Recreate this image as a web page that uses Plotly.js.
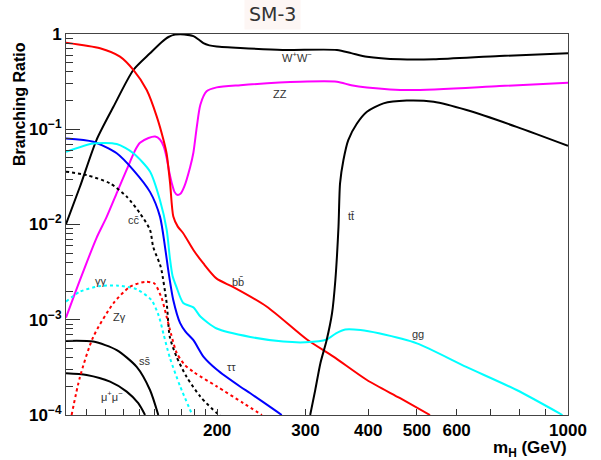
<!DOCTYPE html>
<html>
<head>
<meta charset="utf-8">
<script src="https://cdn.plot.ly/plotly-3.0.1.min.js"></script>
<style>html,body{margin:0;padding:0;background:#fff;}#chart{width:601px;height:460px;}</style>
</head>
<body>
<div id="chart"></div>
<script>
// ---- data (Higgs mass in GeV, branching ratio) ----
var massWW = [100, 106.6, 115, 124.3, 136.2, 147, 155, 160, 165, 172, 179.4, 184, 187.8, 193, 199.6, 222.5, 270, 346.5, 370, 397.6, 463, 540, 730, 1000];
var brWW   = [0.0101, 0.0249, 0.077, 0.172, 0.419, 0.627, 0.82, 0.93, 0.985, 0.99, 0.95, 0.87, 0.80, 0.76, 0.74, 0.713, 0.68, 0.68, 0.63, 0.578, 0.542, 0.542, 0.587, 0.627];

var massZZ = [100, 106.6, 115, 120.5, 126.5, 132.1, 137.4, 140.4, 146, 150.5, 153.9, 156.5, 158.7, 160.5, 162.5, 164.5, 166.5, 169, 172, 176.7, 179.4, 182.2, 185.2, 190.6, 199.6, 222.5, 292.7, 346.5, 370, 397.6, 484, 730, 1000];
var brZZ   = [0.00105, 0.0026, 0.0072, 0.012, 0.022, 0.0376, 0.0605, 0.072, 0.081, 0.084, 0.078, 0.066, 0.05, 0.036, 0.027, 0.022, 0.0205, 0.021, 0.025, 0.040, 0.057, 0.106, 0.181, 0.25, 0.275, 0.29, 0.315, 0.315, 0.29, 0.275, 0.258, 0.284, 0.308];

var massBB = [100, 116.9, 128.1, 136.2, 144.8, 151.7, 156.4, 158.7, 161.2, 163.6, 167, 171.2, 179.4, 187.8, 199.6, 215.5, 251.3, 302, 341, 397.6, 463, 531];
var brBB   = [0.81, 0.708, 0.578, 0.419, 0.258, 0.135, 0.077, 0.055, 0.027, 0.0121, 0.0095, 0.0081, 0.0054, 0.0039, 0.0027, 0.0022, 0.00137, 0.00062, 0.00041, 0.000233, 0.00015, 0.0001];

var massTauTau = [100, 113.3, 126.2, 136.2, 147, 153.9, 157.5, 160, 163.6, 168.8, 173, 179.4, 187.8, 199.6, 222.5, 232.9, 269];
var brTauTau   = [0.080, 0.074, 0.056, 0.0373, 0.022, 0.0121, 0.0058, 0.0032, 0.0016, 0.00092, 0.00075, 0.00061, 0.00041, 0.0003, 0.000198, 0.000169, 0.0001];

var massGG = [100, 113.3, 126.2, 136.2, 147, 153.9, 158.7, 161, 163, 166, 171.2, 179.4, 185.2, 199.6, 232.9, 270.9, 300, 330.5, 345, 360, 386, 420, 500, 627, 790, 975];
var brGG   = [0.058, 0.071, 0.070, 0.056, 0.036, 0.018, 0.0088, 0.0045, 0.0029, 0.0022, 0.0015, 0.00135, 0.00108, 0.00081, 0.00066, 0.00059, 0.00058, 0.00062, 0.00072, 0.00079, 0.00078, 0.00072, 0.000565, 0.00032, 0.000183, 0.0001];

var massTT = [306.5, 313.7, 321.2, 330.5, 338.8, 344, 349, 351.5, 357, 365, 379.8, 397.6, 428.9, 477, 540, 628, 790, 1000];
var brTT   = [0.0001, 0.000183, 0.00035, 0.00061, 0.00117, 0.0026, 0.0095, 0.027, 0.0475, 0.077, 0.115, 0.153, 0.187, 0.20, 0.194, 0.159, 0.106, 0.067];

var massCC = [100, 109.9, 122.4, 132.1, 140.4, 147, 149.2, 153.9, 155, 158.7, 161, 166, 174, 185.2, 199.6, 203];
var brCC   = [0.0359, 0.033, 0.027, 0.0196, 0.0131, 0.0088, 0.0058, 0.0038, 0.0033, 0.00149, 0.00066, 0.00041, 0.00025, 0.000156, 0.000105, 0.0001];

var massSS = [100, 113.3, 126.2, 138.3, 147, 152.7];
var brSS   = [0.0006, 0.00059, 0.00048, 0.00032, 0.000183, 0.0001];

var massMuMu = [100, 109.9, 122.4, 132.1, 139.3, 143.7];
var brMuMu   = [0.000274, 0.000263, 0.000224, 0.000176, 0.000133, 0.0001];

var massGamGam = [100, 106.6, 116.9, 127.1, 138.3, 148, 153, 156.5, 161, 168.8, 178.5];
var brGamGam   = [0.00155, 0.00197, 0.00226, 0.00228, 0.00209, 0.00161, 0.0011, 0.0007, 0.0004, 0.0002, 0.0001];

var massZGam = [102.6, 106.6, 113.3, 124.3, 134.1, 143.7, 150, 155, 158.5, 162, 166.1, 172, 180, 199.6, 225.6, 245.6];
var brZGam   = [0.0001, 0.00025, 0.00066, 0.00149, 0.00222, 0.0025, 0.0024, 0.0017, 0.0011, 0.0007, 0.00045, 0.00034, 0.00028, 0.0002, 0.000133, 0.0001];

var xTickVals = [200, 300, 400, 500, 600, 700, 800, 900, 1000];
var xTickText = ["200", "300", "400", "500", "600", "", "", "", "1000"];
var yTickVals = [1e-4, 1e-3, 1e-2, 1e-1, 1];
var yTickText = ["10<sup>\u22124</sup>", "10<sup>\u22123</sup>", "10<sup>\u22122</sup>", "10<sup>\u22121</sup>", "1"];

var labelText = ["W<sup>+</sup>W<sup>\u2212</sup>", "ZZ", "tt\u0304", "cc\u0304", "bb\u0304", "\u03b3\u03b3", "Z\u03b3", "gg", "ss\u0304", "\u03c4\u03c4", "\u03bc<sup>+</sup>\u03bc<sup>\u2212</sup>"];

// ---- drawing ----
function line(x, y, color, dash) {
  return {x: x, y: y, type: 'scatter', mode: 'lines', hoverinfo: 'skip',
          line: {color: color, width: 2, dash: dash || 'solid', shape: 'spline', smoothing: 0.7}};
}
var traces = [
  line(massWW, brWW, '#000000'),
  line(massZZ, brZZ, '#ff00ff'),
  line(massBB, brBB, '#ff0000'),
  line(massTauTau, brTauTau, '#0000ff'),
  line(massGG, brGG, '#00ffff'),
  line(massTT, brTT, '#000000'),
  line(massCC, brCC, '#000000', '3px,3px'),
  line(massSS, brSS, '#000000'),
  line(massMuMu, brMuMu, '#000000'),
  line(massGamGam, brGamGam, '#00ffff', '3px,3px'),
  line(massZGam, brZGam, '#ff0000', '3px,3px')
];

var L = 66, R = 568, T = 34, B = 415;
function px(x) { return (x - L) / (R - L); }
function py(y) { return (B - y) / (B - T); }
var labelPos = [[297, 57], [280, 94], [351, 216], [134, 220], [238, 282], [101, 281], [119, 317], [418, 334], [145, 361], [231, 367], [112, 396]];
var annotations = labelText.map(function (t, i) {
  return {text: t, xref: 'paper', yref: 'paper', x: px(labelPos[i][0]), y: py(labelPos[i][1]),
          showarrow: false, xanchor: 'center', yanchor: 'middle',
          font: {family: 'Liberation Sans, Arial, sans-serif', size: 11, color: '#333'}};
});
annotations.push({text: 'SM-3', xref: 'paper', yref: 'paper', x: px(272), y: py(14), showarrow: false,
  xanchor: 'center', yanchor: 'middle', bgcolor: '#fdf6f4', borderpad: 4,
  font: {family: 'DejaVu Sans, sans-serif', size: 19, color: '#333'}});
annotations.push({text: 'Branching Ratio', xref: 'paper', yref: 'paper', x: px(20), y: py(104), showarrow: false,
  textangle: -90, xanchor: 'center', yanchor: 'middle',
  font: {family: 'Liberation Sans, Arial, sans-serif', size: 16, color: '#000', weight: 'bold'}});
annotations.push({text: 'm<sub>H</sub> (GeV)', xref: 'paper', yref: 'paper', x: px(569), y: py(449), showarrow: false,
  xanchor: 'right', yanchor: 'middle',
  font: {family: 'Liberation Sans, Arial, sans-serif', size: 17, color: '#000', weight: 'bold'}});

var minorY = [];
[1e-4, 1e-3, 1e-2, 1e-1].forEach(function (d) { for (var k = 2; k <= 9; k++) minorY.push(d * k); });
var minorX = [110, 120, 130, 140, 150, 160, 170, 180, 190];

var layout = {
  width: 601, height: 460,
  margin: {l: L, r: 601 - R, t: T, b: 460 - B, pad: 0},
  paper_bgcolor: '#fff', plot_bgcolor: '#fff',
  showlegend: false,
  xaxis: {type: 'log', range: [2, 3], showgrid: false, zeroline: false,
          showline: true, linecolor: '#444', linewidth: 1, mirror: true,
          tickmode: 'array', tickvals: xTickVals, ticktext: xTickText,
          ticks: 'inside', ticklen: 6, tickcolor: '#333', tickwidth: 1,
          minor: {tickmode: 'array', tickvals: minorX, ticks: 'inside', ticklen: 6, tickcolor: '#333', showgrid: false},
          tickfont: {family: 'Liberation Sans, Arial, sans-serif', size: 17, color: '#000', weight: 'bold'}},
  yaxis: {type: 'log', range: [-4, 0], showgrid: false, zeroline: false,
          showline: true, linecolor: '#444', linewidth: 1, mirror: true,
          tickmode: 'array', tickvals: yTickVals, ticktext: yTickText,
          ticks: 'inside', ticklen: 14, tickcolor: '#333', tickwidth: 1,
          minor: {tickmode: 'array', tickvals: minorY, ticks: 'inside', ticklen: 7, tickcolor: '#333', showgrid: false},
          tickfont: {family: 'Liberation Sans, Arial, sans-serif', size: 17, color: '#000', weight: 'bold'}},
  annotations: annotations
};
Plotly.newPlot('chart', traces, layout, {staticPlot: true, displayModeBar: false});
</script>
</body>
</html>
